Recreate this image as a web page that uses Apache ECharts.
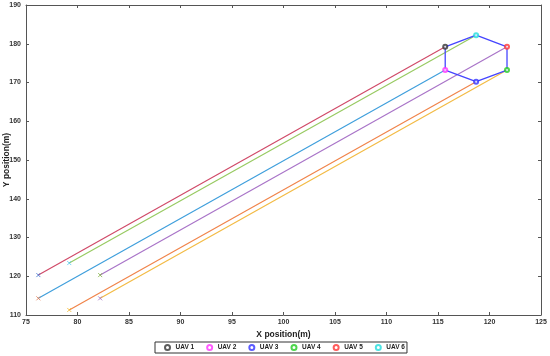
<!DOCTYPE html>
<html><head><meta charset="utf-8">
<script src="https://cdn.jsdelivr.net/npm/echarts@6/dist/echarts.min.js"></script>
<style>html,body{margin:0;padding:0;background:#fff}#c{width:550px;height:356px}</style>
</head><body><div id="c"></div>
<script>
const uavNames = ['UAV 1','UAV 2','UAV 3','UAV 4','UAV 5','UAV 6'];
const startX = [76.2, 76.2, 79.2, 82.2, 82.2, 79.2];
const startY = [120.3, 114.3, 111.3, 114.3, 120.3, 123.4];
const endX = [115.7, 115.7, 118.7, 121.7, 121.7, 118.7];
const endY = [179.2, 173.2, 170.2, 173.2, 179.2, 182.2];
const hexOrder = [0, 5, 4, 3, 2, 1, 0];
const xTicks = {min: 75, max: 125, interval: 5};
const yTicks = {min: 110, max: 190, interval: 10};

const lineColors = ['#d04a68', '#3f9fdc', '#f0844a', '#f3bb45', '#a974c8', '#98ca62'];
const startColors = ['#3a6fd0', '#e07a50', '#f0b830', '#a070c0', '#80b040', '#50c8f0'];
const endColors = ['#333333', '#ff33ff', '#3333ff', '#22cc22', '#ff3333', '#22dddd'];

const chart = echarts.init(document.getElementById('c'));
const series = [];
uavNames.forEach((n, i) => {
  series.push({
    type: 'line', name: 'traj' + i, data: [[startX[i], startY[i]], [endX[i], endY[i]]],
    showSymbol: false, lineStyle: {color: lineColors[i], width: 1.2}, silent: true, z: 2
  });
  series.push({
    type: 'scatter', name: 'start' + i, data: [[startX[i], startY[i]]],
    symbol: 'path://M0,0L10,10M10,0L0,10', symbolSize: 4,
    itemStyle: {color: 'transparent', borderColor: startColors[i], borderWidth: 1}, z: 3
  });
});
series.push({
  type: 'line', name: 'hex', data: hexOrder.map(k => [endX[k], endY[k]]),
  showSymbol: false, lineStyle: {color: '#4545ff', width: 1.3}, z: 4
});
uavNames.forEach((n, i) => {
  series.push({
    type: 'scatter', name: n, data: [[endX[i], endY[i]]],
    symbol: 'emptyCircle', symbolSize: 4,
    itemStyle: {color: endColors[i], borderColor: endColors[i], borderWidth: 0.8}, z: 5
  });
});

const labelStyle = {fontFamily: 'Liberation Sans', fontSize: 7, fontWeight: 'bold', color: '#333'};
const axisLine = {show: true, lineStyle: {color: '#555', width: 1}};
const axisTick = {show: true, inside: true, length: 3, lineStyle: {color: '#555'}};

chart.setOption({
  animation: false,
  grid: {left: 26, right: 9, top: 5, bottom: 41, containLabel: false, outerBoundsMode: 'none'},
  legend: {
    data: uavNames.map(n => ({name: n, itemStyle: {borderWidth: 0.8}})), left: 155, top: 342, orient: 'horizontal',
    padding: [2, 2, 2, 9], itemGap: 12, itemWidth: 6, itemHeight: 5,
    borderColor: '#333', borderWidth: 1, backgroundColor: '#fff',
    textStyle: {fontFamily: 'Liberation Sans', fontSize: 6.5, fontWeight: 'bold', color: '#222'}
  },
  xAxis: [{
    type: 'value', min: xTicks.min, max: xTicks.max, interval: xTicks.interval,
    name: 'X position(m)', nameLocation: 'middle', nameGap: 15, nameMoveOverlap: false,
    nameTextStyle: {fontFamily: 'Liberation Sans', fontSize: 8.5, fontWeight: 'bold', color: '#222'},
    axisLine: axisLine, axisTick: axisTick, splitLine: {show: false},
    axisLabel: Object.assign({margin: 4}, labelStyle)
  }, {
    type: 'value', position: 'top', min: xTicks.min, max: xTicks.max, interval: xTicks.interval,
    axisLine: axisLine, axisTick: axisTick, splitLine: {show: false}, axisLabel: {show: false}
  }],
  yAxis: [{
    type: 'value', min: yTicks.min, max: yTicks.max, interval: yTicks.interval,
    name: 'Y position(m)', nameLocation: 'middle', nameGap: 15, nameMoveOverlap: false,
    nameTextStyle: {fontFamily: 'Liberation Sans', fontSize: 8.5, fontWeight: 'bold', color: '#222'},
    axisLine: axisLine, axisTick: axisTick, splitLine: {show: false},
    axisLabel: Object.assign({margin: 5}, labelStyle)
  }, {
    type: 'value', position: 'right', min: yTicks.min, max: yTicks.max, interval: yTicks.interval,
    axisLine: axisLine, axisTick: axisTick, splitLine: {show: false}, axisLabel: {show: false}
  }],
  series: series
});
</script></body></html>
